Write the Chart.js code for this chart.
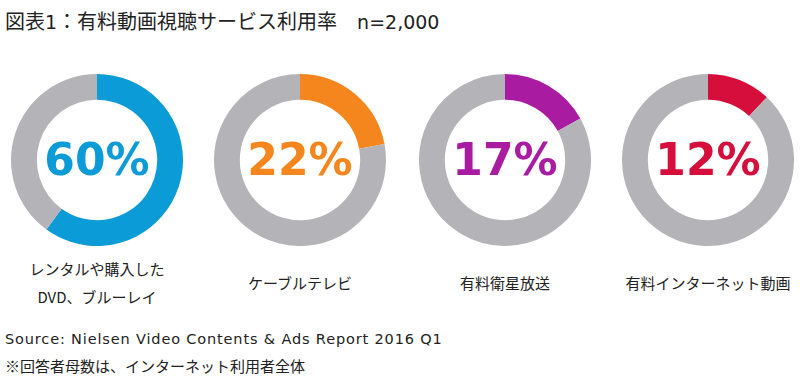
<!DOCTYPE html>
<html><head><meta charset="utf-8">
<script src="https://cdn.jsdelivr.net/npm/chart.js@4"></script>
<style>
html,body{margin:0;padding:0;background:#fff;width:800px;height:387px;overflow:hidden;}
body{position:relative;font-family:"Noto Sans CJK JP","Noto Sans",sans-serif;color:#222;}
.t{position:absolute;white-space:nowrap;}
.lat{font-family:"DejaVu Sans",sans-serif;}
canvas{position:absolute;}
.pct{position:absolute;font-family:"DejaVu Sans",sans-serif;font-weight:bold;font-size:44px;text-align:center;width:170px;line-height:50px;}
.lab{position:absolute;text-align:center;width:200px;font-size:15px;line-height:28px;}
</style></head><body>
<div class="t" style="left:5px;top:6px;font-size:20px;">図表<span class="lat" style="font-size:19px">1</span>：有料動画視聴サービス利用率　<span class="lat" style="font-size:19px;">n=2,000</span></div>
<div class="t lat" style="left:5px;top:331px;font-size:14.5px;letter-spacing:0.85px;">Source: Nielsen Video Contents &amp; Ads Report 2016 Q1</div>
<div class="t" style="left:5px;top:355px;font-size:15px;">※回答者母数は、インターネット利用者全体</div>
<script>
const categories = ["レンタルや購入した\nDVD、ブルーレイ", "ケーブルテレビ", "有料衛星放送", "有料インターネット動画"];
const usage = [60, 22, 17, 12];
const notUsing = [40, 78, 83, 88];
const colors = ["#0b9bd7", "#f5861e", "#a91ca2", "#d50e3c"];
const restColor = "#b3b3b8";
const centers = [97, 300, 505, 708];

centers.forEach((cx, i) => {
  const c = document.createElement('canvas');
  c.width = 172; c.height = 172;
  c.style.left = (cx - 86) + 'px'; c.style.top = '74px';
  c.style.width = '172px'; c.style.height = '172px';
  document.body.appendChild(c);
  new Chart(c, {
    type: 'doughnut',
    data: { labels: ['利用', '非利用'], datasets: [{ data: [usage[i], notUsing[i]], backgroundColor: [colors[i], restColor], borderWidth: 0 }] },
    options: { responsive: false, animation: false, cutout: '70%', layout: { padding: 0 },
      plugins: { legend: { display: false }, tooltip: { enabled: false } } }
  });
  const p = document.createElement('div');
  p.className = 'pct'; p.style.color = colors[i];
  p.style.left = (cx - 85) + 'px'; p.style.top = '135px';
  p.textContent = usage[i] + '%';
  document.body.appendChild(p);
  const l = document.createElement('div');
  l.className = 'lab';
  const lines = categories[i].split('\n');
  l.style.left = (cx - 100) + 'px';
  l.style.top = (lines.length > 1 ? 255 : 269) + 'px';
  l.innerHTML = lines.map(s => s.replace(/&/g,'&amp;')).join('<br>');
  document.body.appendChild(l);
});
</script>
</body></html>
